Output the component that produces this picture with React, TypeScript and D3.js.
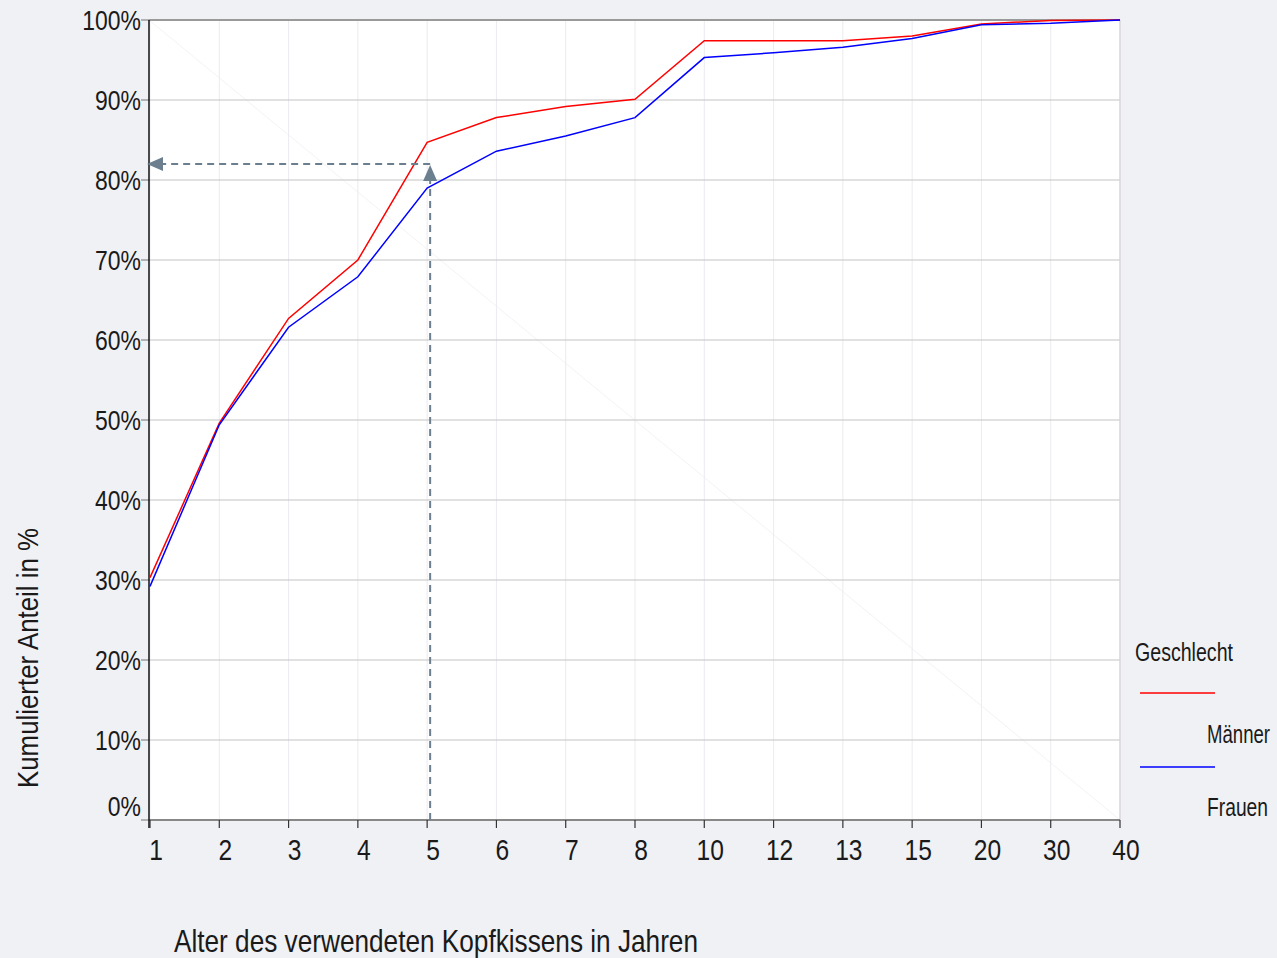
import React from "react";
import * as d3 from "d3";

const categories = ["1", "2", "3", "4", "5", "6", "7", "8", "10", "12", "13", "15", "20", "30", "40"];
const maenner = [30.3, 49.6, 62.7, 70.0, 84.7, 87.8, 89.2, 90.1, 97.4, 97.4, 97.4, 98.0, 99.5, 99.95, 100];
const frauen = [29.2, 49.4, 61.6, 67.9, 79.0, 83.6, 85.5, 87.8, 95.3, 95.9, 96.6, 97.7, 99.4, 99.6, 100];
const yTicks = [0, 10, 20, 30, 40, 50, 60, 70, 80, 90, 100];
const seriesNames = ["Männer", "Frauen"];
const seriesColors = ["#ff0000", "#0000ff"];
const markerValue = 82;
const markerCategory = "5";

const W = 1277;
const H = 958;
const FONT = "'Liberation Sans', Arial, sans-serif";
const SX = 0.82;

function NText(props: {
  x: number;
  y: number;
  size: number;
  anchor?: "start" | "middle" | "end";
  rotate?: number;
  length?: number;
  children: React.ReactNode;
}) {
  const { x, y, size, anchor = "start", rotate = 0, length, children } = props;
  return (
    <g transform={`translate(${x},${y}) rotate(${rotate}) scale(${SX},1)`}>
      <text
        x={0}
        y={0}
        textAnchor={anchor}
        fontFamily={FONT}
        fontSize={size}
        fill="#1a1a1a"
        textLength={length ? length / SX : undefined}
        lengthAdjust={length ? "spacingAndGlyphs" : undefined}
      >
        {children}
      </text>
    </g>
  );
}

export default function App() {
  const left = 149, right = 1120, top = 20, bottom = 820;
  const x = d3.scalePoint<string>().domain(categories).range([left + 1, right]);
  const y = d3.scaleLinear().domain([0, 100]).range([bottom, top]);
  const line = d3
    .line<number>()
    .x((_, i) => x(categories[i]) as number)
    .y((d) => y(d));

  const mx = (x(markerCategory) as number) + 3;
  const my = y(markerValue);
  const legendLengths = [63, 61];

  return (
    <svg
      width={W}
      height={H}
      style={{ position: "absolute", left: 0, top: 0, display: "block", background: "#f0f1f5" }}
    >
      <rect x={left} y={top} width={right - left} height={bottom - top} fill="#ffffff" />
      {/* faint diagonal artifact */}
      <line x1={left} y1={top} x2={right} y2={bottom} stroke="#f3f3f6" strokeWidth={1} />
      {/* vertical grid */}
      {categories.map((c) => (
        <line key={"vg" + c} x1={x(c)} x2={x(c)} y1={top} y2={bottom} stroke="#ebebf0" strokeWidth={1} />
      ))}
      {/* horizontal grid */}
      {yTicks.map((t) => (
        <g key={"hg" + t}>
          <line x1={left} x2={right} y1={y(t)} y2={y(t)} stroke="#c4c4c4" strokeWidth={1.2} />
          <line x1={left - 8} x2={left} y1={y(t)} y2={y(t)} stroke="#888" strokeWidth={1.2} />
          <NText x={141} y={(t === 0 ? 806 : y(t)) + 10} size={28} anchor="end">
            {t}%
          </NText>
        </g>
      ))}
      {/* frame */}
      <line x1={left} x2={right} y1={top} y2={top} stroke="#9a9a9a" strokeWidth={2} />
      <line x1={right} x2={right} y1={top} y2={bottom} stroke="#d8d8dc" strokeWidth={1.5} />
      <line x1={left} x2={right} y1={bottom} y2={bottom} stroke="#888" strokeWidth={2} />
      <line x1={left} x2={left} y1={top} y2={bottom + 8} stroke="#111" strokeWidth={1.5} />
      {/* x ticks */}
      {categories.map((c) => (
        <g key={"xt" + c}>
          <line x1={x(c)} x2={x(c)} y1={bottom} y2={bottom + 8} stroke="#333" strokeWidth={1.2} />
          <NText x={(x(c) as number) + 6} y={860} size={30} anchor="middle">
            {c}
          </NText>
        </g>
      ))}
      {/* series */}
      {[maenner, frauen].map((s, i) => (
        <path key={"s" + i} d={line(s) || ""} fill="none" stroke={seriesColors[i]} strokeWidth={1.5} />
      ))}
      {/* marker arrows */}
      <line x1={mx} x2={mx} y1={bottom} y2={my + 16} stroke="#6b7f8f" strokeWidth={2} strokeDasharray="7,5" />
      <line x1={mx} x2={left + 14} y1={my} y2={my} stroke="#6b7f8f" strokeWidth={2} strokeDasharray="7,5" />
      <path d={`M${mx},${my + 1} L${mx - 7},${my + 17} L${mx + 7},${my + 17} Z`} fill="#6b7f8f" />
      <path d={`M${left - 2},${my} L${left + 14},${my - 7} L${left + 14},${my + 7} Z`} fill="#6b7f8f" />
      {/* legend */}
      <NText x={1135} y={661} size={25} length={98}>
        Geschlecht
      </NText>
      {seriesNames.map((n, i) => (
        <g key={"lg" + n}>
          <line x1={1140} x2={1215} y1={693 + i * 74} y2={693 + i * 74} stroke={seriesColors[i]} strokeWidth={1.5} />
          <NText x={1207} y={743 + i * 73} size={25} length={legendLengths[i]}>
            {n}
          </NText>
        </g>
      ))}
      {/* axis titles */}
      <NText x={38} y={788} size={29} rotate={-90} length={260}>
        Kumulierter Anteil in %
      </NText>
      <NText x={174} y={952} size={31} length={524}>
        Alter des verwendeten Kopfkissens in Jahren
      </NText>
    </svg>
  );
}
